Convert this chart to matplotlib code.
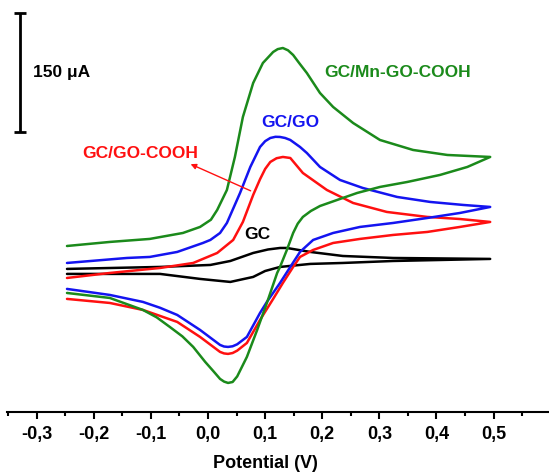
import matplotlib
matplotlib.use("Agg")
import matplotlib.pyplot as plt
from matplotlib.ticker import FuncFormatter, MultipleLocator

plt.rcParams["font.family"] = ["Liberation Sans", "DejaVu Sans"]

# potential (V) / current (uA), forward then reverse scan
green_E = [-0.247, -0.172, -0.102, -0.044, -0.014, 0.005, 0.016, 0.033, 0.047, 0.061, 0.079,
           0.096, 0.114, 0.122, 0.131, 0.140, 0.149, 0.160, 0.173, 0.196, 0.219, 0.254, 0.301,
           0.359, 0.419, 0.494,
           0.454, 0.406, 0.349, 0.301, 0.261, 0.226, 0.196, 0.180, 0.166, 0.157, 0.149, 0.138,
           0.126, 0.121, 0.103, 0.086, 0.068, 0.051, 0.043, 0.035, 0.028, 0.021, 0.009, -0.005,
           -0.026, -0.045, -0.067, -0.090, -0.114, -0.172, -0.247]
green_I = [23.9, 29.0, 32.8, 40.3, 47.9, 57.0, 69.3, 94.5, 136.1, 186.5, 229.3,
           254.5, 268.4, 272.0, 273.4, 270.5, 264.6, 254.0, 241.9, 216.7, 199.1, 178.9, 157.5,
           144.9, 138.6, 136.1,
           123.5, 113.4, 104.6, 98.3, 90.7, 81.9, 74.3, 68.0, 60.5, 52.0, 40.3, 18.9,
           -2.5, -10.1, -47.9, -81.9, -115.9, -140.5, -147.5, -148.7, -147.0, -143.6, -133.6, -122.2,
           -103.3, -90.0, -78.1, -66.0, -56.7, -41.6, -35.3]

blue_E = [-0.247, -0.142, -0.102, -0.054, -0.044, -0.009, 0.004, 0.021, 0.033, 0.056,
          0.074, 0.091, 0.100, 0.109, 0.118, 0.126, 0.135, 0.144, 0.161, 0.173, 0.196, 0.231,
          0.271, 0.331, 0.389, 0.447, 0.494,
          0.441, 0.384, 0.324, 0.266, 0.219, 0.184, 0.161, 0.144, 0.126, 0.103, 0.091, 0.068,
          0.051, 0.043, 0.035, 0.028, 0.021, -0.014, -0.054, -0.084, -0.114, -0.172, -0.247]
blue_I = [2.5, 8.8, 10.1, 16.4, 18.9, 27.7, 31.5, 40.3, 52.9, 90.7,
          123.5, 148.7, 156.0, 160.0, 161.5, 161.3, 160.0, 157.5, 148.7, 141.1, 123.5, 107.1,
          97.0, 85.7, 79.4, 75.6, 73.1,
          65.5, 59.2, 52.9, 47.9, 40.3, 31.5, 16.4, -2.5, -22.7, -46.6, -60.5, -90.7,
          -100.0, -102.5, -103.3, -102.8, -100.8, -81.9, -63.0, -54.0, -46.6, -37.8, -30.2]

red_E = [-0.247, -0.172, -0.084, -0.026, 0.016, 0.044, 0.061, 0.079, 0.091, 0.100, 0.109,
         0.120, 0.131, 0.144, 0.166, 0.208, 0.254, 0.313, 0.384, 0.441, 0.494,
         0.441, 0.384, 0.324, 0.266, 0.219, 0.184, 0.161, 0.149, 0.131, 0.114, 0.091,
         0.068, 0.051, 0.043, 0.035, 0.028, 0.021, -0.014, -0.054, -0.114, -0.172, -0.247]
red_I = [-16.4, -10.1, -3.8, 2.5, 15.1, 31.5, 54.2, 88.2, 108.0, 121.0, 129.8,
         134.5, 136.1, 134.8, 115.9, 94.5, 78.1, 66.8, 60.5, 57.9, 54.2,
         47.9, 41.6, 37.8, 32.8, 27.7, 18.9, 10.1, -2.5, -22.7, -42.8, -69.3,
         -98.3, -108.0, -111.0, -112.1, -111.5, -109.6, -90.7, -71.8, -56.7, -47.9, -42.8]

black_E = [-0.247, -0.084, 0.004, 0.039, 0.079, 0.105, 0.126, 0.138, 0.179, 0.236, 0.324, 0.494,
           0.324, 0.236, 0.179, 0.126, 0.100, 0.079, 0.039, 0.004, -0.014, -0.084, -0.247]
black_I = [-5.0, -2.5, 0.0, 5.0, 15.1, 19.5, 21.4, 21.4, 16.4, 11.3, 8.8, 7.6,
           5.0, 2.5, 1.3, -2.5, -7.6, -15.1, -21.4, -18.9, -17.6, -11.3, -11.3]

xticks = [-0.3, -0.2, -0.1, 0.0, 0.1, 0.2, 0.3, 0.4, 0.5]

fig = plt.figure(figsize=(5.49, 4.74), dpi=100)
ax = fig.add_axes([0.0128, 0.131, 0.9872, 0.869])

line_kw = dict(lw=1.8, solid_joinstyle="round", solid_capstyle="round")
ax.plot(black_E, black_I, color="black", **line_kw)
ax.plot(red_E, red_I, color="#ff1010", **line_kw)
ax.plot(blue_E, blue_I, color="#1414f0", **line_kw)
ax.plot(green_E, green_I, color="#1b8a1b", **line_kw)

ax.set_xlim(-0.352, 0.597)
ax.set_ylim(-185.2, 333.9)

# 150 uA scale bar
ax.errorbar([-0.329], [242], yerr=[75], color="black", lw=2, capsize=4, capthick=2)
ax.text(-0.306, 242, "150 \u03bcA", fontsize=12.5, fontweight="bold", va="center", ha="left")

ax.text(0.331, 242, "GC/Mn-GO-COOH", color="#1b8a1b", fontsize=12.5, fontweight="bold",
        ha="center", va="center")
ax.text(0.144, 180, "GC/GO", color="#1414f0", fontsize=12.5, fontweight="bold",
        ha="center", va="center")
ax.text(-0.119, 141, "GC/GO-COOH", color="#ff1010", fontsize=12.5, fontweight="bold",
        ha="center", va="center")
ax.text(0.086, 37.8, "GC", color="black", fontsize=12.5, fontweight="bold",
        ha="center", va="center")
ax.annotate("", xy=(-0.035, 128.5), xytext=(0.079, 92),
            arrowprops=dict(arrowstyle="-|>", color="#ff1010", lw=1, mutation_scale=8))

for s in ["left", "right", "top"]:
    ax.spines[s].set_visible(False)
ax.spines["bottom"].set_linewidth(1.5)
ax.set_yticks([])
ax.set_xticks(xticks)
ax.xaxis.set_minor_locator(MultipleLocator(0.05))
ax.xaxis.set_major_formatter(FuncFormatter(lambda v, p: f"{v:.1f}".replace(".", ",").replace("-0,0", "0,0")))
ax.tick_params(axis="x", which="major", length=5, width=1.5, pad=5, labelsize=13)
ax.tick_params(axis="x", which="minor", length=3, width=1.5)
for lbl in ax.get_xticklabels():
    lbl.set_fontweight("bold")
ax.set_xlabel("Potential (V)", fontsize=13, fontweight="bold", va="center")
ax.xaxis.set_label_coords(0.476, -0.125)

fig.savefig("out.png", dpi=100)
